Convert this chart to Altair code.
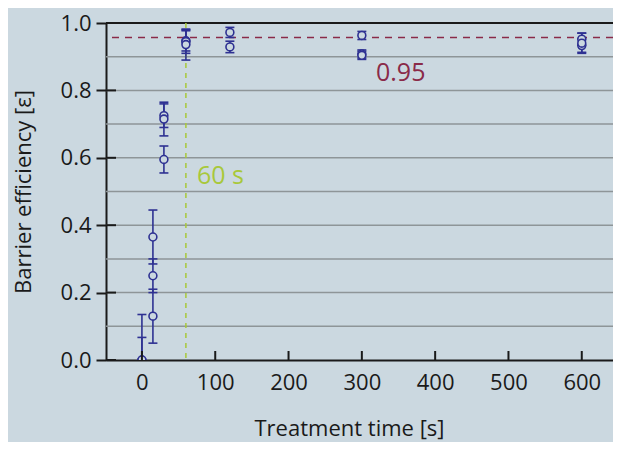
import altair as alt
import pandas as pd

# ---- data ----
times = [0, 0, 15, 15, 15, 30, 30, 30, 60, 60, 60, 120, 120, 300, 300, 300, 600, 600, 600]
efficiency = [0.0, 0.0, 0.365, 0.25, 0.13, 0.725, 0.715, 0.595, 0.947, 0.945, 0.936,
              0.972, 0.929, 0.963, 0.908, 0.904, 0.952, 0.933, 0.94]
errors = [0.135, 0.067, 0.08, 0.05, 0.08, 0.035, 0.05, 0.04, 0.03, 0.035, 0.046,
          0.015, 0.017, 0.012, 0.012, 0.012, 0.018, 0.02, 0.03]

x_tick_values = [0, 100, 200, 300, 400, 500, 600]
y_tick_values = [0.0, 0.2, 0.4, 0.6, 0.8, 1.0]
grid_values = [0.1, 0.2, 0.3, 0.4, 0.5, 0.6, 0.7, 0.8, 0.9]
ref_value = [0.957]
ref_label = ["0.95"]
time_marker = [60]
time_label = ["60 s"]

BG = "#cbd8e0"
BLUE = "#2e3192"
RED = "#8a2a48"
GREEN = "#a8c83a"
GRID = "#8e9598"
INK = "#1a1a1a"
FONT = "Open Sans"

df = pd.DataFrame({"t": times, "e": efficiency, "err": errors})
df["lo"] = df["e"] - df["err"]
df["hi"] = df["e"] + df["err"]

xs = alt.Scale(domain=[-49, 642.6], nice=False, zero=False)
ys = alt.Scale(domain=[0, 1], nice=False, zero=False)

x_axis = alt.Axis(values=x_tick_values, title="Treatment time [s]",
                  ticks=False, labelPadding=12, grid=False,
                  domainColor=INK, domainWidth=2,
                  labelFont=FONT, labelFontSize=22, labelColor=INK,
                  titleFont=FONT, titleFontSize=22, titleFontWeight="normal",
                  titleColor=INK, titleX=243, titleY=68, titleBaseline="middle")
y_axis = alt.Axis(values=y_tick_values, format=".1f",
                  title="Barrier efficiency [ε]",
                  tickSize=10, tickWidth=2, tickColor=INK,
                  labelPadding=5, grid=False,
                  domainColor=INK, domainWidth=2,
                  labelFont=FONT, labelFontSize=22, labelColor=INK,
                  titleFont=FONT, titleFontSize=22, titleFontWeight="normal",
                  titleColor=INK, titleX=-83, titleY=168.5,
                  titleBaseline="middle", titleAlign="center")


def X(field):
    return alt.X(field, type="quantitative", scale=xs, axis=x_axis)


def Y(field):
    return alt.Y(field, type="quantitative", scale=ys, axis=y_axis)


grid = alt.Chart(pd.DataFrame({"g": grid_values})).mark_rule(
    color=GRID, strokeWidth=1.5
).encode(y=Y("g"))

top_line = alt.Chart(pd.DataFrame({"g": [1.0]})).mark_rule(
    color=INK, strokeWidth=2
).encode(y=Y("g"))

ref = alt.Chart(pd.DataFrame({"r": ref_value})).mark_rule(
    color=RED, strokeWidth=1.5, strokeDash=[7, 6]
).encode(y=Y("r"))

vline = alt.Chart(pd.DataFrame({"v": time_marker})).mark_rule(
    color=GREEN, strokeWidth=1.5, strokeDash=[5, 5]
).encode(x=X("v"))

bars = alt.Chart(df).mark_rule(color=BLUE, strokeWidth=1.6, clip=True).encode(
    x=X("t"), y=Y("lo"), y2="hi:Q",
)
cap_lo = alt.Chart(df).mark_rule(color=BLUE, strokeWidth=1.6, clip=True,
                                 xOffset=-4.5, x2Offset=4.5).encode(
    x=X("t"), x2="t:Q", y=Y("lo"),
)
cap_hi = alt.Chart(df).mark_rule(color=BLUE, strokeWidth=1.6, clip=True,
                                 xOffset=-4.5, x2Offset=4.5).encode(
    x=X("t"), x2="t:Q", y=Y("hi"),
)

points = alt.Chart(df).mark_point(
    shape="circle", filled=True, fill=BG, stroke=BLUE, strokeWidth=1.6,
    size=62, opacity=1, clip=True
).encode(x=X("t"), y=Y("e"))

x_ticks_in = alt.Chart(pd.DataFrame({"t": x_tick_values})).mark_rule(
    color=INK, strokeWidth=2
).encode(x=X("t"), y=alt.value(328), y2=alt.value(337))

y_ticks_in = alt.Chart(pd.DataFrame({"v": y_tick_values})).mark_rule(
    color=INK, strokeWidth=2
).encode(y=Y("v"), x=alt.value(0), x2=alt.value(10))

label_60 = alt.Chart(pd.DataFrame({"v": time_marker, "lab": time_label})).mark_text(
    color=GREEN, font=FONT, fontSize=25, align="left", baseline="middle", dx=11
).encode(x=X("v"), y=alt.value(153), text="lab:N")

label_ref = alt.Chart(pd.DataFrame({"r": ref_value, "lab": ref_label})).mark_text(
    color=RED, font=FONT, fontSize=25, align="left", baseline="middle"
).encode(x=alt.value(270), y=alt.value(50), text="lab:N")

chart = alt.layer(
    grid, top_line, ref, vline, bars, cap_lo, cap_hi, points,
    x_ticks_in, y_ticks_in, label_60, label_ref
).properties(
    width=507, height=337,
    autosize=alt.AutoSizeParams(type="none"),
    padding={"left": 98, "top": 15, "right": 0, "bottom": 82},
    background=BG,
).configure_view(stroke=None)

chart.save("out.html", embed_options={"renderer": "svg", "actions": False})
